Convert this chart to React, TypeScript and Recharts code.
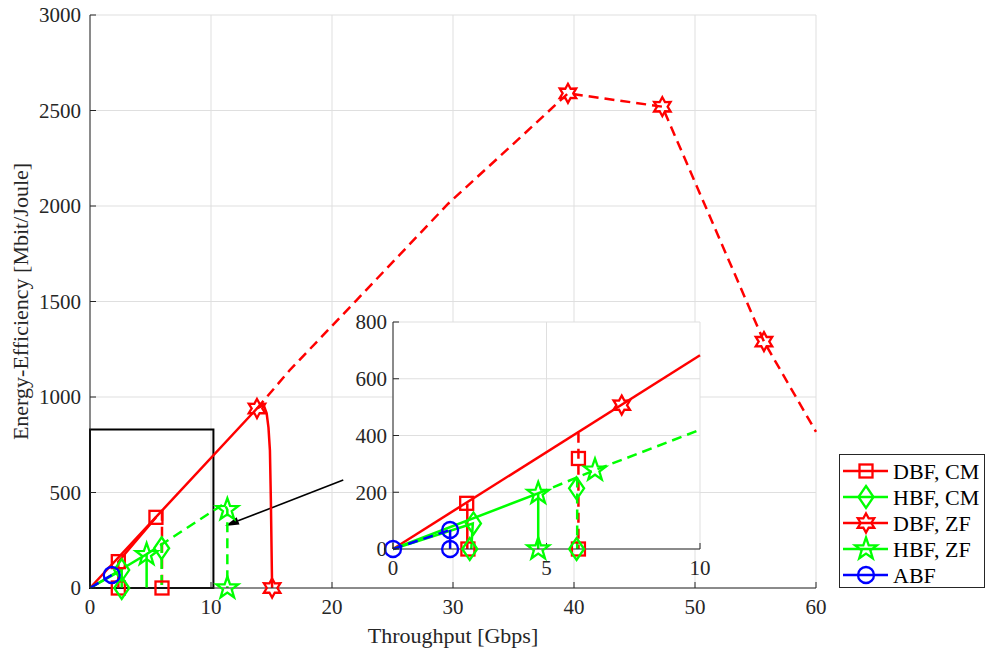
import React from 'react';
import {
  ComposedChart,
  Line,
  Scatter,
  XAxis,
  YAxis,
  CartesianGrid,
  ReferenceArea,
  ReferenceLine,
} from 'recharts';

type Pt = { x: number; y: number };
type MarkerKind = 'square' | 'diamond' | 'hexagram' | 'pentagram' | 'circle';

// axis ticks
const mainXTicks = [0, 10, 20, 30, 40, 50, 60];
const mainYTicks = [0, 500, 1000, 1500, 2000, 2500, 3000];
const insetXTicks = [0, 5, 10];
const insetYTicks = [0, 200, 400, 600, 800];

// main axes: DBF, CM
const dbfCmSolid: Pt[] = [{ x: 2.34, y: 0 }, { x: 2.34, y: 138 }, { x: 5.45, y: 370 }];
const dbfCmDashed: Pt[] = [{ x: 5.95, y: 405 }, { x: 5.95, y: 0 }];
const dbfCmMarks: Pt[] = [{ x: 2.34, y: 138 }, { x: 2.34, y: 0 }, { x: 5.45, y: 370 }, { x: 5.95, y: 0 }];

// main axes: HBF, CM
const hbfCmSolid: Pt[] = [{ x: 0, y: 0 }, { x: 2.62, y: 94 }, { x: 2.62, y: 0 }];
const hbfCmDashed: Pt[] = [{ x: 5.92, y: 235 }, { x: 5.92, y: 0 }];
const hbfCmMarks: Pt[] = [{ x: 2.62, y: 94 }, { x: 2.62, y: 0 }, { x: 5.92, y: 208 }];

// main axes: DBF, ZF
const dbfZfSolid: Pt[] = [
  { x: 0, y: 0 }, { x: 13.8, y: 940 }, { x: 14.35, y: 958 }, { x: 14.6, y: 915 },
  { x: 14.75, y: 840 }, { x: 14.87, y: 720 }, { x: 14.95, y: 450 }, { x: 15.05, y: 0 },
];
const dbfZfDashed: Pt[] = [
  { x: 13.8, y: 940 }, { x: 16.5, y: 1140 }, { x: 22, y: 1505 }, { x: 29.6, y: 2012 },
  { x: 35.5, y: 2355 }, { x: 39.5, y: 2590 }, { x: 47.3, y: 2520 }, { x: 55.7, y: 1290 },
  { x: 60, y: 818 },
];
const dbfZfMarks: Pt[] = [
  { x: 13.8, y: 940 }, { x: 15.05, y: 0 }, { x: 39.5, y: 2590 }, { x: 47.3, y: 2520 }, { x: 55.7, y: 1290 },
];

// main axes: HBF, ZF
const hbfZfSolid: Pt[] = [{ x: 0, y: 0 }, { x: 4.68, y: 177 }, { x: 4.68, y: 0 }];
const hbfZfDashed: Pt[] = [{ x: 4.68, y: 177 }, { x: 11.1, y: 442 }, { x: 11.35, y: 410 }, { x: 11.35, y: 0 }];
const hbfZfMarks: Pt[] = [{ x: 4.68, y: 175 }, { x: 11.35, y: 410 }, { x: 11.35, y: 0 }];

// main axes: ABF
const abfDashed: Pt[] = [{ x: 0, y: 0 }, { x: 1.8, y: 68 }];
const abfMarks: Pt[] = [{ x: 1.8, y: 68 }];

// zoom box and arrow (data units of main axes)
const zoomBox = { x1: 0, x2: 10.2, y1: 0, y2: 830 };
const arrowFrom: Pt = { x: 20.93, y: 565 };
const arrowTo: Pt = { x: 11.16, y: 325 };

// inset axes
const inDbfCmSolid: Pt[] = [{ x: 2.42, y: 161 }, { x: 2.42, y: 0 }];
const inDbfCmDashed: Pt[] = [{ x: 6.04, y: 410 }, { x: 6.04, y: 0 }];
const inDbfCmMarks: Pt[] = [{ x: 2.4, y: 161 }, { x: 2.44, y: 0 }, { x: 6.04, y: 319 }, { x: 6.04, y: 0 }];

const inHbfCmSolid: Pt[] = [{ x: 0, y: 0 }, { x: 2.6, y: 90 }, { x: 2.55, y: 0 }];
const inHbfCmDashed: Pt[] = [{ x: 6.0, y: 252 }, { x: 6.0, y: 0 }];
const inHbfCmMarks: Pt[] = [{ x: 2.62, y: 90 }, { x: 2.5, y: 0 }, { x: 5.98, y: 214 }, { x: 5.98, y: 0 }];

const inDbfZfSolid: Pt[] = [{ x: 0, y: 0 }, { x: 10, y: 683 }];
const inDbfZfMarks: Pt[] = [{ x: 7.45, y: 507 }];

const inHbfZfSolid: Pt[] = [{ x: 0, y: 0 }, { x: 4.73, y: 196 }, { x: 4.73, y: 0 }];
const inHbfZfDashed: Pt[] = [{ x: 4.73, y: 196 }, { x: 6.58, y: 278 }, { x: 10, y: 420 }];
const inHbfZfMarks: Pt[] = [{ x: 4.73, y: 196 }, { x: 4.73, y: 0 }, { x: 6.58, y: 278 }];

const inAbfDashed: Pt[] = [{ x: 0, y: 0 }, { x: 1.86, y: 67 }];
const inAbfSolid: Pt[] = [{ x: 1.86, y: 67 }, { x: 1.86, y: 0 }];
const inAbfMarks: Pt[] = [{ x: 0, y: 0 }, { x: 1.86, y: 67 }, { x: 1.86, y: 0 }];

const seriesNames = ['DBF, CM', 'HBF, CM', 'DBF, ZF', 'HBF, ZF', 'ABF'];

const RED = '#ff0000';
const GREEN = '#00ff00';
const BLUE = '#0000ff';
const AXIS = '#262626';
const GRID = '#dfdfdf';
const FONT = '"Liberation Serif", "Times New Roman", serif';
const DASH = '10 6';

const seriesStyle: { color: string; marker: MarkerKind }[] = [
  { color: RED, marker: 'square' },
  { color: GREEN, marker: 'diamond' },
  { color: RED, marker: 'hexagram' },
  { color: GREEN, marker: 'pentagram' },
  { color: BLUE, marker: 'circle' },
];

const starPoints = (cx: number, cy: number, n: number, rOut: number, rIn: number) => {
  const pts: string[] = [];
  for (let i = 0; i < n * 2; i++) {
    const r = i % 2 === 0 ? rOut : rIn;
    const a = -Math.PI / 2 + (i * Math.PI) / n;
    pts.push(`${cx + r * Math.cos(a)},${cy + r * Math.sin(a)}`);
  }
  return pts.join(' ');
};

const Marker = ({ kind, cx, cy, color }: { kind: MarkerKind; cx?: number; cy?: number; color: string }) => {
  if (cx == null || cy == null) return null;
  const common = { fill: 'none', stroke: color, strokeWidth: 2.3 };
  switch (kind) {
    case 'square':
      return <rect x={cx - 6.5} y={cy - 6.5} width={13} height={13} {...common} />;
    case 'diamond':
      return (
        <polygon
          points={`${cx},${cy - 11} ${cx + 7.5},${cy} ${cx},${cy + 11} ${cx - 7.5},${cy}`}
          {...common}
        />
      );
    case 'hexagram':
      return <polygon points={starPoints(cx, cy, 6, 9.5, 5.3)} {...common} />;
    case 'pentagram':
      return <polygon points={starPoints(cx, cy, 5, 11.5, 4.6)} {...common} />;
    default:
      return <circle cx={cx} cy={cy} r={8} {...common} />;
  }
};

const marks = (data: Pt[], idx: number) => {
  const s = seriesStyle[idx];
  return (
    <Scatter
      data={data}
      isAnimationActive={false}
      shape={(p: any) => <Marker kind={s.marker} cx={p.cx} cy={p.cy} color={s.color} />}
    />
  );
};

const path = (data: Pt[], color: string, dashed = false) => (
  <Line
    data={data}
    dataKey="y"
    type="linear"
    stroke={color}
    strokeWidth={2.5}
    strokeDasharray={dashed ? DASH : undefined}
    dot={false}
    activeDot={false}
    isAnimationActive={false}
  />
);

const arrowShape = (p: any) => {
  const { x1, y1, x2, y2 } = p;
  const ang = Math.atan2(y2 - y1, x2 - x1);
  const len = 14;
  const half = 4;
  const bx = x2 - len * Math.cos(ang);
  const by = y2 - len * Math.sin(ang);
  const nx = -Math.sin(ang) * half;
  const ny = Math.cos(ang) * half;
  return (
    <g>
      <line x1={x1} y1={y1} x2={bx} y2={by} stroke="#000" strokeWidth={1.6} />
      <polygon points={`${x2},${y2} ${bx + nx},${by + ny} ${bx - nx},${by - ny}`} fill="#000" />
    </g>
  );
};

// tick text drawn by hand so the serif face is used
const XTick = (p: any) => (
  <text x={p.x} y={p.y} dy="0.72em" textAnchor="middle" fontSize={21} fontFamily={FONT} fill={AXIS}>
    {p.payload.value}
  </text>
);
const YTick = (p: any) => (
  <text x={p.x} y={p.y} dy="0.35em" textAnchor="end" fontSize={21} fontFamily={FONT} fill={AXIS}>
    {p.payload.value}
  </text>
);

const LegendBox = () => (
  <svg width={146} height={134} style={{ position: 'absolute', left: 839, top: 454 }}>
    <rect x={0.5} y={0.5} width={145} height={133} fill="#fff" stroke={AXIS} strokeWidth={1} />
    {seriesNames.map((name, i) => {
      const y = 17 + i * 26;
      const s = seriesStyle[i];
      return (
        <g key={name}>
          <line x1={4} x2={49} y1={y} y2={y} stroke={s.color} strokeWidth={2.5} />
          <Marker kind={s.marker} cx={27} cy={y} color={s.color} />
          <text x={54} y={y} dy="0.35em" fontSize={22} fontFamily={FONT} fill="#000">
            {name}
          </text>
        </g>
      );
    })}
  </svg>
);

export default function App() {
  return (
    <div style={{ position: 'absolute', left: 0, top: 0, width: 986, height: 657, background: '#fff', fontFamily: FONT }}>
      <div style={{ position: 'absolute', left: 0, top: 0 }}>
        <ComposedChart width={986} height={657} margin={{ top: 15, right: 170, bottom: 9, left: 0 }}>
          <CartesianGrid stroke={GRID} strokeWidth={1} />
          <XAxis
            type="number"
            dataKey="x"
            domain={[0, 60]}
            ticks={mainXTicks}
            interval={0}
            height={60}
            stroke={AXIS}
            tickSize={-6}
            tickMargin={17}
            tick={<XTick />}
            label={{ value: 'Throughput [Gbps]', position: 'insideBottom', offset: 5, fill: AXIS, fontSize: 22, fontFamily: FONT }}
          />
          <YAxis
            type="number"
            dataKey="y"
            domain={[0, 3000]}
            ticks={mainYTicks}
            interval={0}
            width={90}
            stroke={AXIS}
            tickSize={-6}
            tickMargin={15}
            tick={<YTick />}
            label={{
              value: 'Energy-Efficiency [Mbit/Joule]',
              angle: -90,
              position: 'insideLeft',
              offset: 20,
              fill: AXIS,
              fontSize: 22,
              fontFamily: FONT,
              style: { textAnchor: 'middle' },
            }}
          />
          <ReferenceArea {...zoomBox} fill="none" fillOpacity={0} stroke="#000" strokeWidth={2} ifOverflow="visible" />
          <ReferenceLine segment={[arrowFrom, arrowTo]} shape={arrowShape} ifOverflow="visible" />

          {path(dbfCmSolid, RED)}
          {path(dbfCmDashed, RED, true)}
          {marks(dbfCmMarks, 0)}

          {path(hbfCmSolid, GREEN)}
          {path(hbfCmDashed, GREEN, true)}
          {marks(hbfCmMarks, 1)}

          {path(dbfZfSolid, RED)}
          {path(dbfZfDashed, RED, true)}
          {marks(dbfZfMarks, 2)}

          {path(hbfZfSolid, GREEN)}
          {path(hbfZfDashed, GREEN, true)}
          {marks(hbfZfMarks, 3)}

          {path(abfDashed, BLUE, true)}
          {marks(abfMarks, 4)}
        </ComposedChart>
      </div>

      <div style={{ position: 'absolute', left: 343, top: 298 }}>
        <ComposedChart width={370} height={294} margin={{ top: 24, right: 13, bottom: 13, left: 0 }}>
          <CartesianGrid stroke={GRID} strokeWidth={1} fill="#fff" fillOpacity={1} />
          <XAxis
            type="number"
            dataKey="x"
            domain={[0, 10]}
            ticks={insetXTicks}
            interval={0}
            height={30}
            stroke={AXIS}
            tickSize={-6}
            tickMargin={17}
            tick={<XTick />}
          />
          <YAxis
            type="number"
            dataKey="y"
            domain={[0, 800]}
            ticks={insetYTicks}
            interval={0}
            width={50}
            stroke={AXIS}
            tickSize={-6}
            tickMargin={12}
            tick={<YTick />}
          />

          {path(inDbfCmSolid, RED)}
          {path(inDbfCmDashed, RED, true)}
          {marks(inDbfCmMarks, 0)}

          {path(inHbfCmSolid, GREEN)}
          {path(inHbfCmDashed, GREEN, true)}
          {marks(inHbfCmMarks, 1)}

          {path(inDbfZfSolid, RED)}
          {marks(inDbfZfMarks, 2)}

          {path(inHbfZfSolid, GREEN)}
          {path(inHbfZfDashed, GREEN, true)}
          {marks(inHbfZfMarks, 3)}

          {path(inAbfDashed, BLUE, true)}
          {path(inAbfSolid, BLUE)}
          {marks(inAbfMarks, 4)}
        </ComposedChart>
      </div>

      <LegendBox />
    </div>
  );
}
